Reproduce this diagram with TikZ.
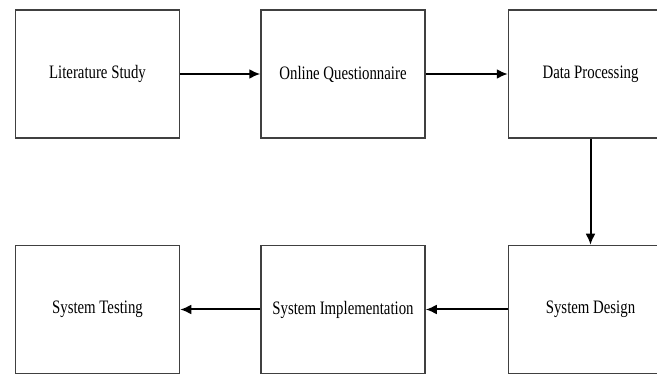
\documentclass[tikz,border=0pt]{standalone}
\usepackage{fontspec}
\setmainfont{Liberation Serif}
\newfontfamily\narrowserif[FakeStretch=0.78]{Liberation Serif}
\usetikzlibrary{positioning, arrows.meta}

\tikzset{
    stage/.style={draw=black!75, line width=1.5pt, minimum width=164pt, minimum height=128pt,
        font=\narrowserif\fontsize{19}{21}\selectfont},
    flow/.style={->, line width=2pt, black}
}

\begin{document}
\begin{tikzpicture}[>={Latex[length=11pt, width=10pt]}, x=1pt, y=1pt]
    \useasboundingbox (0,0) rectangle (657,374);
    
    % Hàng trên
    \node[stage] (lit) at (97.5,300) {Literature Study};
    \node[stage, right=80pt of lit] (quest) {Online Questionnaire};
    \node[stage, right=82pt of quest] (proc) {Data Processing};
    
    % Hàng dưới
    \node[stage, below=106pt of proc] (design) {System Design};
    \node[stage, left=82pt of design] (impl) {System Implementation};
    \node[stage, left=80pt of impl] (test) {System Testing};
    
    % Mũi tên
    \draw[flow] (lit) -- (quest);
    \draw[flow] (quest) -- (proc);
    \draw[flow] (proc) -- (design);
    \draw[flow] (design) -- (impl);
    \draw[flow] (impl) -- (test);
\end{tikzpicture}
\end{document}
